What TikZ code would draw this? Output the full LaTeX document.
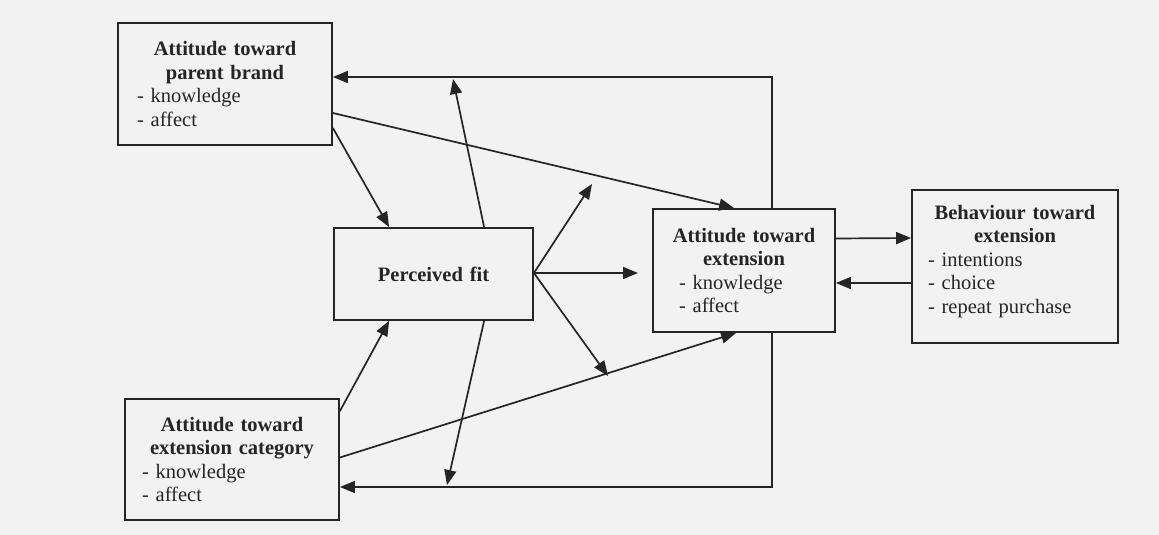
\documentclass[tikz,border=0pt]{standalone}
\usepackage{fontspec}
\setmainfont{Liberation Serif}
\usetikzlibrary{arrows.meta,calc}
\definecolor{paper}{HTML}{F1F2F1}
\definecolor{ink}{HTML}{252525}
\begin{document}
\begin{tikzpicture}[x=1pt,y=-1pt,
  box/.style={draw=ink,line width=1.8pt,fill=paper,inner xsep=16pt,inner ysep=0pt,
    align=left,text=ink,font=\fontsize{20.5}{23.5}\selectfont},
  link/.style={draw=ink,line width=1.7pt,-{Triangle[length=15pt,width=12pt]}}]
% page
\fill[paper] (0,0) rectangle (1159,535);
\useasboundingbox (0,0) rectangle (1159,535);

% boxes
\node[box,minimum width=214pt,minimum height=122pt,text width=182pt] (A) at (225,84)
  {{\centering\bfseries Attitude toward\\parent brand\par}\hspace*{3pt}- knowledge\\\hspace*{3pt}- affect};
\node[box,minimum width=199pt,minimum height=92pt,text width=167pt] (P) at (433.5,274)
  {{\centering\bfseries Perceived fit\par}};
\node[box,minimum width=182pt,minimum height=123pt,text width=150pt] (E) at (744,270.5)
  {{\centering\bfseries Attitude toward\\extension\par}\hspace*{10pt}- knowledge\\\hspace*{10pt}- affect};
\node[box,minimum width=206pt,minimum height=153pt,text width=174pt] (B) at (1015,266.5)
  {{\centering\bfseries Behaviour toward\\extension\par}- intentions\\- choice\\- repeat purchase\vspace*{10pt}};
\node[box,minimum width=214pt,minimum height=121pt,text width=182pt] (C) at (232,459.5)
  {{\centering\bfseries Attitude toward\\extension category\par}\hspace*{1pt}- knowledge\\\hspace*{1pt}- affect};

% free ends of the perceived-fit arrows
\coordinate (pu) at (592,184);
\coordinate (pr) at (638,273);
\coordinate (pd) at (608,376);

% antecedents into perceived fit
\draw[link] ($(A.east)+(0,44)$) -- ($(P.north west)+(56,0)$);
\draw[link] ($(C.north east)+(0,13)$) -- ($(P.south west)+(56,0)$);

% antecedents into attitude toward extension
\draw[link] ($(A.east)+(0,29)$) -- ($(E.north west)+(82,0)$);
\draw[link] ($(C.east)+(0,-2)$) -- ($(E.south west)+(84,0)$);

% perceived fit outputs
\draw[link] ($(P.east)+(0,-1)$) -- (pu);
\draw[link] ($(P.east)+(0,-1)$) -- (pr);
\draw[link] ($(P.east)+(0,-1)$) -- (pd);

% extension attitude and behaviour
\draw[link] ($(E.east)+(0,-32)$) -- ($(B.west)+(0,-28.5)$);
\draw[link] ($(B.west)+(0,16.5)$) -- ($(E.east)+(0,12.5)$);

% feedback loops
\draw[link] ($(E.north west)+(120,0)$) |- ($(A.east)+(0,-7)$);
\draw[link] ($(E.south west)+(120,0)$) |- ($(C.east)+(0,27.5)$);
\coordinate (ta) at (453,79);
\coordinate (tb) at (447,485);
\draw[link] ($(P.north west)+(151,0)$) -- (ta);
\draw[link] ($(P.south west)+(151,0)$) -- (tb);
\end{tikzpicture}
\end{document}
